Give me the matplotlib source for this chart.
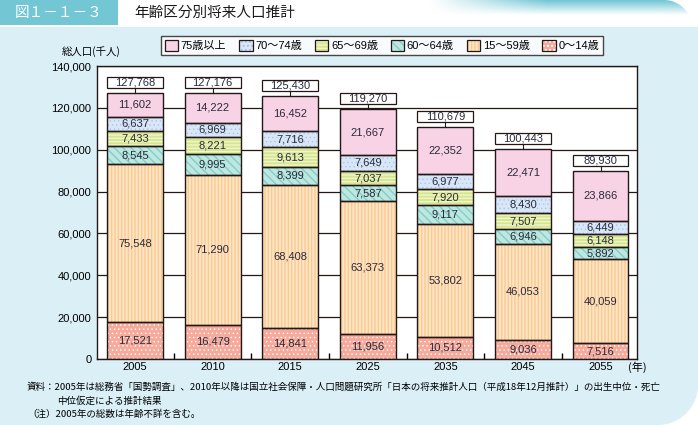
import numpy as np
import matplotlib.pyplot as plt
from matplotlib.patches import Rectangle, Patch, PathPatch
from matplotlib.path import Path

plt.rcParams['font.family'] = ['Liberation Sans', 'Noto Sans CJK JP']
plt.rcParams['hatch.linewidth'] = 1.0

# データ（千人）
years = ["2005", "2010", "2015", "2025", "2035", "2045", "2055"]
age_0_14 = [17521, 16479, 14841, 11956, 10512, 9036, 7516]
age_15_59 = [75548, 71290, 68408, 63373, 53802, 46053, 40059]
age_60_64 = [8545, 9995, 8399, 7587, 9117, 6946, 5892]
age_65_69 = [7433, 8221, 9613, 7037, 7920, 7507, 6148]
age_70_74 = [6637, 6969, 7716, 7649, 6977, 8430, 6449]
age_75_up = [11602, 14222, 16452, 21667, 22352, 22471, 23866]
totals = [127768, 127176, 125430, 119270, 110679, 100443, 89930]

group_labels = ["0〜14歳", "15〜59歳", "60〜64歳", "65〜69歳", "70〜74歳", "75歳以上"]
series = [age_0_14, age_15_59, age_60_64, age_65_69, age_70_74, age_75_up]

# (塗り色, 模様の色, 模様, 模様の線幅)
styles = [
    ("#f5aa9b", "white", "....", 0.5),
    ("#fee5c8", "#fbca8e", "|||||", 1.0),
    ("#bfe7e1", "#82cfc5", "\\\\\\\\", 1.0),
    ("#d6e690", "#f0f6cc", "-----", 1.0),
    ("#d8e7f7", "#a9c0e7", "....", 0.4),
    ("#f7d3e5", "#f7d3e5", "", 1.0),
]


def hatch_lw(p, lw):
    if hasattr(p, "set_hatch_linewidth"):
        p.set_hatch_linewidth(lw)


W, H = 698, 425
fig = plt.figure(figsize=(W / 100, H / 100), dpi=100)
fig.patch.set_facecolor("white")

# 背景
bg = fig.add_axes([0, 0, 1, 1], zorder=-10)
bg.set_xlim(0, W)
bg.set_ylim(H, 0)
bg.axis("off")

r = 40
t = np.linspace(0, np.pi / 2, 20)
verts = [(0, 27), (W, 27), (W, H - r)]
verts += [(W - r + r * np.cos(a), H - r + r * np.sin(a)) for a in t]
verts += [(0, H), (0, 27)]
bg.add_patch(PathPatch(Path(verts), fc="#daeff6", ec="none"))

# 右上のグラデーション
gx = np.linspace(0, 1, 300)
gy = np.linspace(0, 1, 30)
GX, GY = np.meshgrid(gx, gy)
alpha = np.clip(GX / 0.45, 0, 1) * np.clip(1 - GY / 0.55, 0, 1)
img = np.zeros((30, 300, 4))
img[..., 0], img[..., 1], img[..., 2] = 0.45, 0.78, 0.84
img[..., 3] = alpha
im = bg.imshow(img, extent=(430, 692, 27, 0), aspect="auto", interpolation="bilinear")
rr = 28
t2 = np.linspace(-np.pi / 2, 0, 20)
cverts = [(430, 0), (692 - rr, 0)]
cverts += [(692 - rr + rr * np.cos(a), rr + rr * np.sin(a)) for a in t2]
cverts += [(692, 27), (430, 27), (430, 0)]
clip = PathPatch(Path(cverts), transform=bg.transData, fc="none", ec="none")
bg.add_patch(clip)
im.set_clip_path(clip)

bg.add_patch(Rectangle((0, 0), 118, 25, fc="#73c6d4", ec="none"))
bg.text(59, 13, "図１－１－３", color="white", fontsize=10.5,
        ha="center", va="center", family="Noto Sans CJK JP")
bg.text(134, 13, "年齢区分別将来人口推計", color="#1a1a1a", fontsize=10.5,
        ha="left", va="center", family="Noto Sans CJK JP")

# グラフ本体
ax = fig.add_axes([97 / W, 1 - 359 / H, 540 / W, 293 / H])
ax.set_facecolor("white")
x = np.arange(len(years))
bw = 0.72
bottom = np.zeros(len(years))
handles = []
for vals, (fc, hc, h, hl) in zip(series, styles):
    vals = np.array(vals)
    bars = ax.bar(x, vals, bw, bottom=bottom, color=fc, edgecolor=hc, hatch=h,
                  linewidth=0, zorder=2)
    for b in bars:
        hatch_lw(b, hl)
    ax.bar(x, vals, bw, bottom=bottom, fill=False, edgecolor="#231815",
           linewidth=1.0, zorder=3)
    for xi, v, b in zip(x, vals, bottom):
        ax.text(xi, b + v / 2, f"{v:,}", ha="center", va="center",
                fontsize=8, color="#2a2a3a", zorder=5)
    bottom = bottom + vals
    hp = Patch(fc=fc, ec=hc, hatch=h, lw=0)
    hatch_lw(hp, hl)
    handles.append((hp, Patch(fill=False, ec="#231815", lw=0.9)))

gap, bh = 2400, 5250
for xi, tot, top in zip(x, totals, bottom):
    y0 = top + gap
    ax.add_patch(Rectangle((xi - bw / 2, y0), bw, bh, fc="white",
                           ec="#231815", lw=0.9, zorder=4))
    ax.plot([xi, xi], [top, y0], color="#231815", lw=0.8, zorder=4)
    ax.text(xi, y0 + bh / 2, f"{tot:,}", ha="center", va="center",
            fontsize=8, color="#2a2a3a", zorder=5)

ax.set_xlim(-0.49, 6.47)
ax.set_ylim(0, 140000)
yt = np.arange(0, 140001, 20000)
ax.set_yticks(yt)
ax.set_yticklabels([f"{v:,}" for v in yt], fontsize=8)
ax.tick_params(axis="y", length=0, pad=4)
ax.set_xticks(x)
ax.set_xticklabels(years, fontsize=8)
ax.set_xticks(x[:-1] + 0.5, minor=True)
ax.tick_params(axis="x", which="major", length=0, pad=2)
ax.tick_params(axis="x", which="minor", length=4, direction="in", width=1)
ax.yaxis.grid(True, color="#231815", lw=0.9)
ax.set_axisbelow(True)
for s in ax.spines.values():
    s.set_linewidth(1.0)
    s.set_color("#231815")

fig.text(91 / W, 1 - 52 / H, "総人口(千人)", ha="center", va="center",
         fontsize=7.5, family="Noto Sans CJK JP")
fig.text(637 / W, 1 - 367 / H, "(年)", ha="center", va="center",
         fontsize=8, family="Noto Sans CJK JP")

leg_order = [5, 4, 3, 2, 1, 0]
leg = fig.legend([handles[i] for i in leg_order], [group_labels[i] for i in leg_order],
                 loc="center", bbox_to_anchor=(382 / W, 1 - 45.5 / H), ncol=6,
                 frameon=True, fancybox=False, edgecolor="#231815", fontsize=8,
                 handlelength=1.2, handleheight=1.2, handletextpad=0.25,
                 columnspacing=1.15, borderpad=0.35, borderaxespad=0)
leg.get_frame().set_linewidth(1.0)

notes = [
    (27, 387, "資料：2005年は総務省「国勢調査」、2010年以降は国立社会保障・人口問題研究所「日本の将来推計人口（平成18年12月推計）」の出生中位・死亡"),
    (57, 401, "中位仮定による推計結果"),
    (27, 414, "（注）2005年の総数は年齢不詳を含む。"),
]
for nx, ny, s in notes:
    fig.text(nx / W, 1 - ny / H, s, ha="left", va="center", fontsize=6.85,
             family=["Noto Sans CJK JP"])

fig.savefig("out.png", dpi=100)
